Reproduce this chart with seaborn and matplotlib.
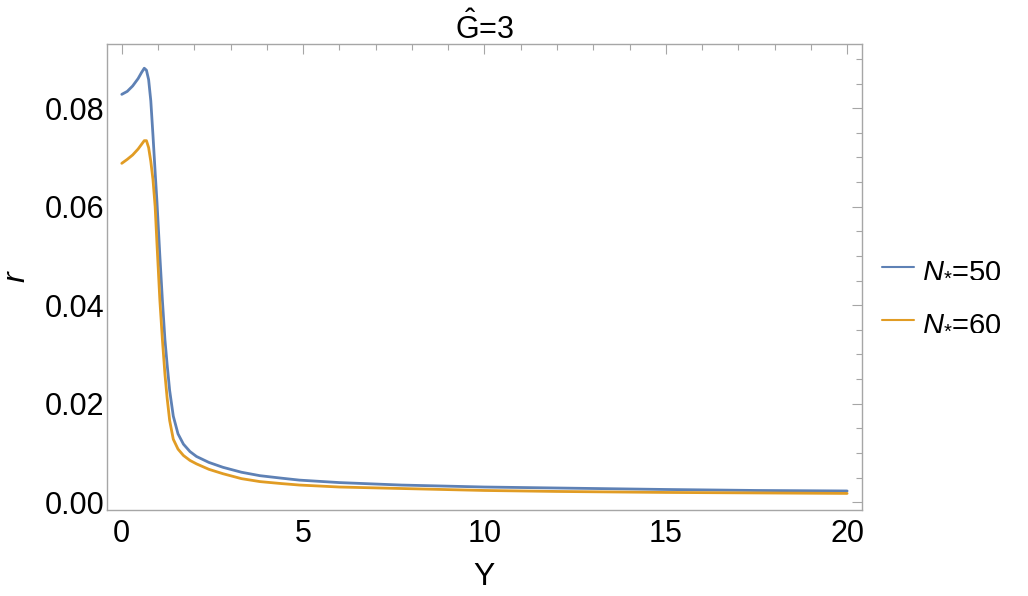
import numpy as np
import pandas as pd
import matplotlib
matplotlib.use("Agg")
import matplotlib.pyplot as plt
from matplotlib.ticker import MultipleLocator
import seaborn as sns

# values
Y = [0, 0.15, 0.3, 0.45, 0.55, 0.62, 0.68, 0.74, 0.80, 0.86, 0.92, 0.97, 1.05,
     1.12, 1.19, 1.25, 1.32, 1.42, 1.55, 1.7, 1.88, 2.06, 2.4, 2.79, 3.3, 3.81,
     4.4, 4.9, 6, 7.7, 10, 12, 15, 17.5, 20]
r_50 = [0.0828, 0.0834, 0.0845, 0.0860, 0.0873, 0.0881, 0.0877, 0.0858, 0.0815,
        0.0745, 0.0670, 0.0610, 0.0500, 0.0410, 0.0330, 0.0280, 0.0227, 0.0175,
        0.0139, 0.0118, 0.0103, 0.0093, 0.0081, 0.0071, 0.0061, 0.0054, 0.0049,
        0.0045, 0.0040, 0.0035, 0.0031, 0.0029, 0.0026, 0.0024, 0.0023]
r_60 = [0.0688, 0.0696, 0.0705, 0.0717, 0.0727, 0.0734, 0.0734, 0.0720, 0.0692,
        0.0655, 0.0600, 0.0525, 0.0410, 0.0330, 0.0260, 0.0212, 0.0166, 0.0128,
        0.0108, 0.0095, 0.0085, 0.0078, 0.0067, 0.0058, 0.0048, 0.0042, 0.0038,
        0.0035, 0.0031, 0.0028, 0.0024, 0.0022, 0.0020, 0.0019, 0.0018]
labels = [r"$N_{*}$=50", r"$N_{*}$=60"]
colors = ["#5E81B5", "#E19C24"]

df = pd.concat([
    pd.DataFrame({"Y": Y, "r": r_50, "series": labels[0]}),
    pd.DataFrame({"Y": Y, "r": r_60, "series": labels[1]}),
])

sns.set_style("white")
plt.rcParams["font.family"] = ["Liberation Sans", "DejaVu Sans"]
plt.rcParams["mathtext.fontset"] = "custom"
plt.rcParams["mathtext.rm"] = "Liberation Sans"
plt.rcParams["mathtext.it"] = "Liberation Sans:italic"
plt.rcParams["text.color"] = "black"
plt.rcParams["axes.labelcolor"] = "black"
plt.rcParams["xtick.labelcolor"] = "black"
plt.rcParams["ytick.labelcolor"] = "black"

fig = plt.figure(figsize=(10.28, 5.96), dpi=100)
ax = fig.add_axes([0.104, 0.144, 0.7345, 0.782])

sns.lineplot(data=df, x="Y", y="r", hue="series", palette=colors, ax=ax,
             linewidth=2, sort=False, estimator=None)

ax.set_xlim(-0.41, 20.41)
ax.set_ylim(-0.0016, 0.093)

frame_col = "#a6a6a6"
for s in ax.spines.values():
    s.set_color(frame_col)
    s.set_linewidth(1)

ax.xaxis.set_major_locator(MultipleLocator(5))
ax.xaxis.set_minor_locator(MultipleLocator(1))
ax.yaxis.set_major_locator(MultipleLocator(0.02))
ax.yaxis.set_minor_locator(MultipleLocator(0.005))
ax.yaxis.set_major_formatter(matplotlib.ticker.FormatStrFormatter("%.2f"))
ax.tick_params(which="both", direction="in", top=True, right=True,
               color=frame_col, width=0.8)
ax.tick_params(which="major", length=7, labelsize=22)
ax.tick_params(which="minor", length=4)
ax.tick_params(axis="y", which="major", pad=2)
ax.tick_params(axis="x", which="major", pad=6)

ax.set_xlabel("Y", fontsize=23, labelpad=10)
ax.set_ylabel("r", fontsize=23, style="italic")
ax.yaxis.set_label_coords(-0.1, 0.5)
ax.set_title(r"$\hat{\mathrm{G}}$=3", fontsize=22, pad=4)

leg = ax.legend(loc="center left", bbox_to_anchor=(1.0, 0.46), frameon=False,
                fontsize=21, handlelength=1.1, handletextpad=0.25,
                borderaxespad=0.3, labelspacing=0.85)
for line in leg.get_lines():
    line.set_linewidth(1.5)
for t in leg.get_texts():
    t.set_clip_on(False)

fig.savefig("out.png", dpi=100)
